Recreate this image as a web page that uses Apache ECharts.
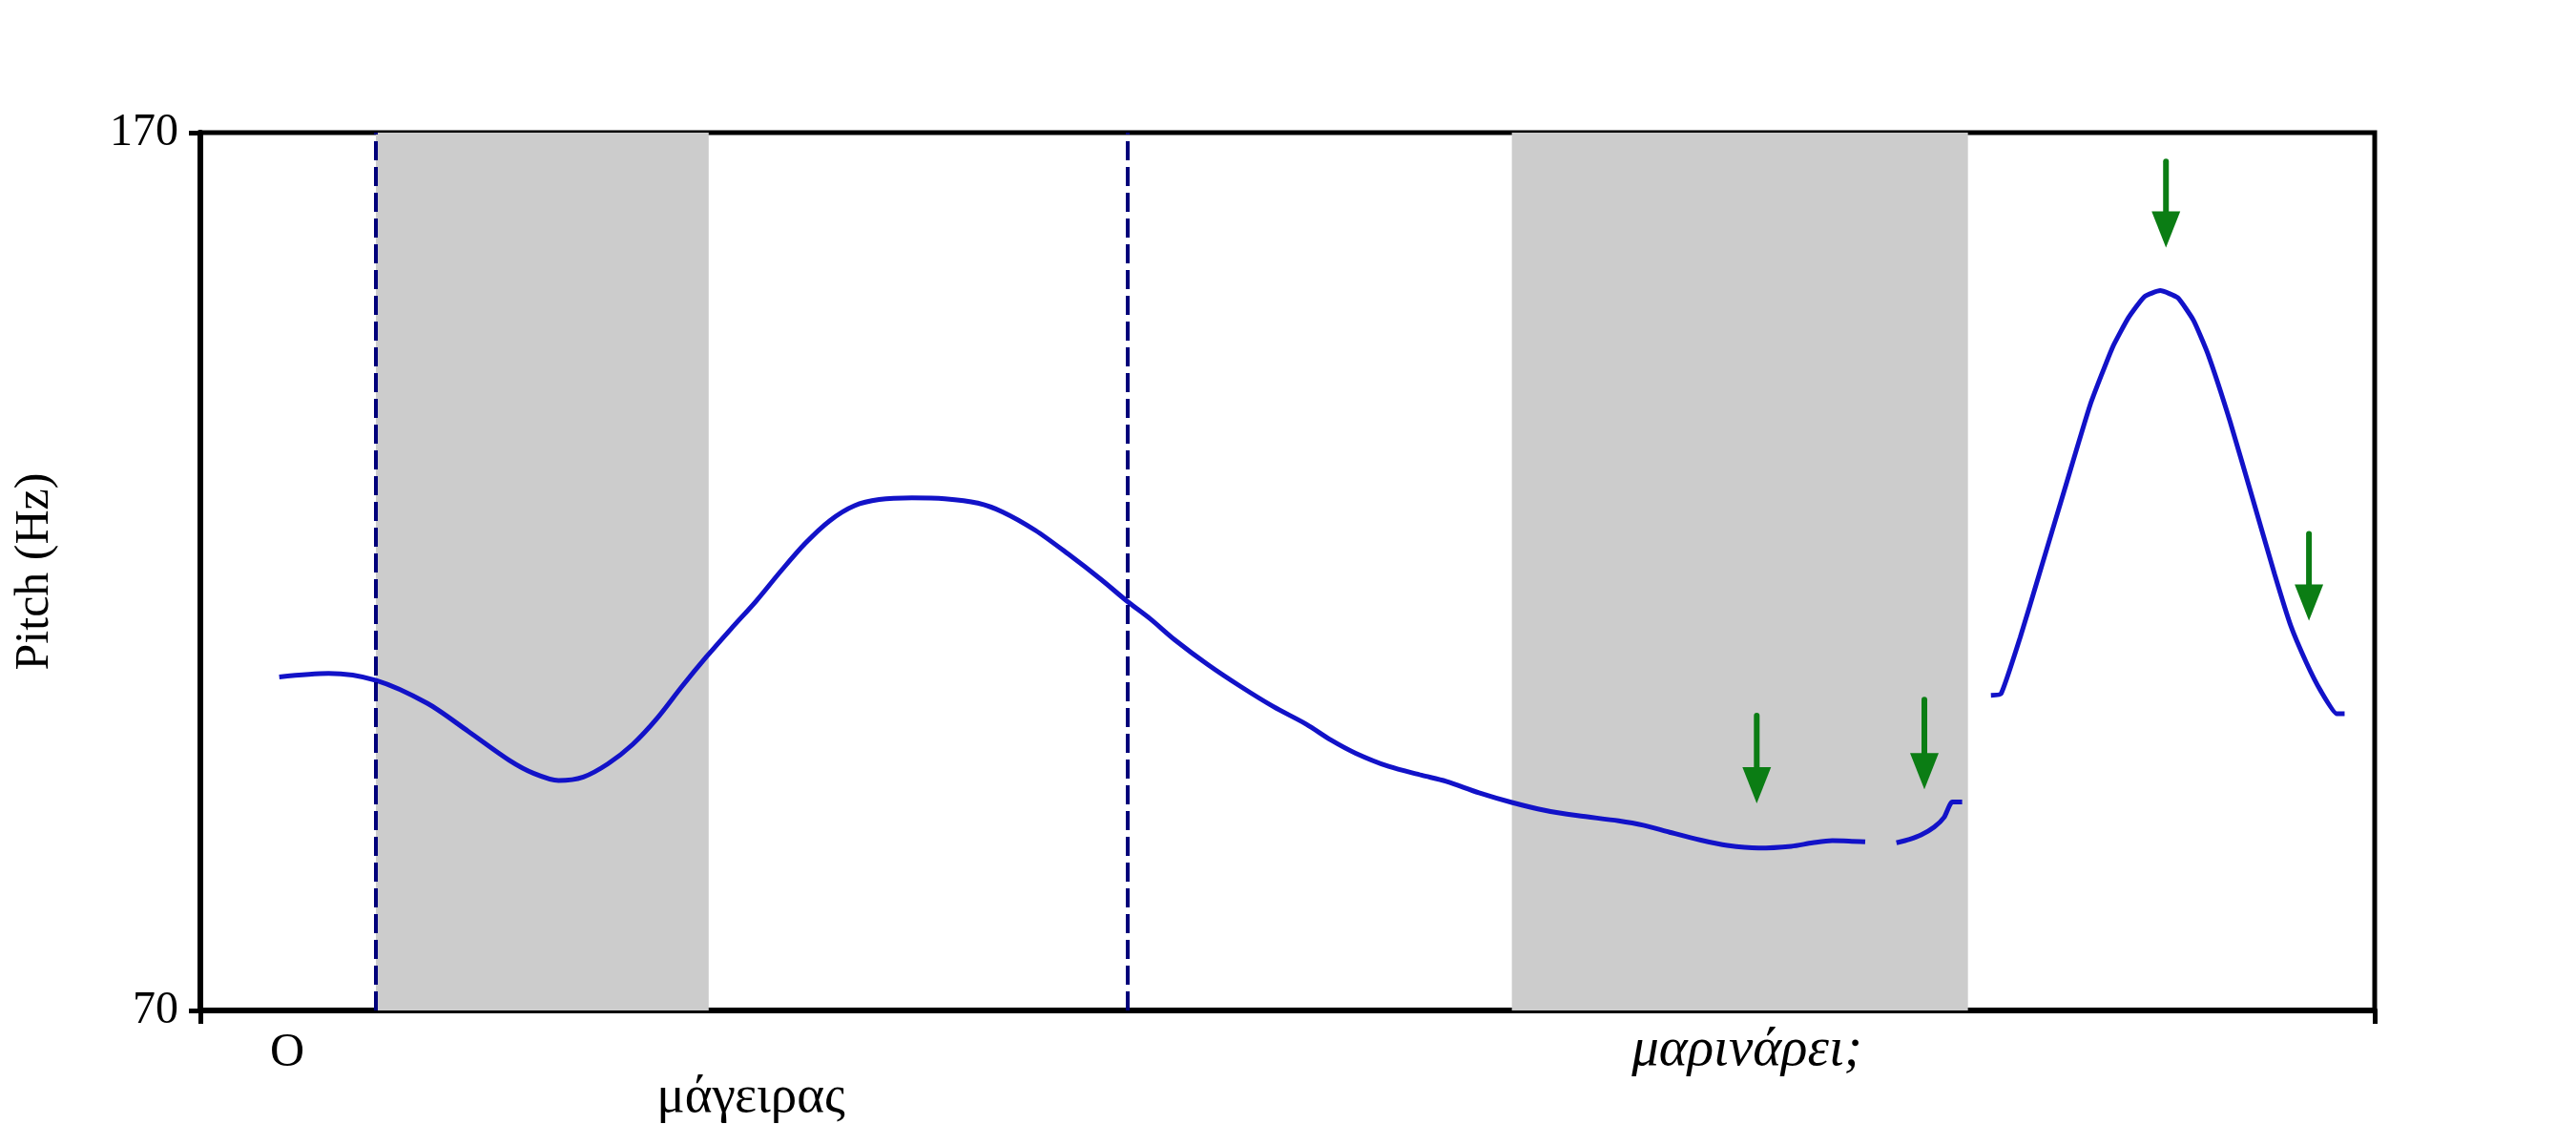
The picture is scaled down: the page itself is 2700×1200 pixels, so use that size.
<!DOCTYPE html>
<html>
<head>
<meta charset="utf-8">
<script src="https://cdn.jsdelivr.net/npm/echarts@6/dist/echarts.min.js"></script>
<style>
html,body{margin:0;padding:0;background:#fff;}
#chart{width:2700px;height:1200px;}
</style>
</head>
<body>
<div id="chart"></div>
<script>
// ---- data (x: time in ms, y: pitch in Hz) ----
const contour1 = [
  [48,108.0],[78,108.4],[107,107.6],[138,105.0],[163,101.8],[188,98.5],[203,97.0],[218,96.2],
  [233,96.6],[248,98.1],[263,100.3],[278,103.3],[293,106.9],[308,110.3],[323,113.5],[338,116.6],
  [353,120.0],[368,123.2],[383,125.8],[398,127.5],[413,128.2],[433,128.4],[453,128.3],[473,127.8],
  [488,126.8],[508,124.7],[528,122.0],[548,119.1],[564,116.6],[578,114.6],[593,112.2],[613,109.4],
  [633,106.9],[653,104.6],[673,102.6],[688,100.8],[703,99.3],[723,97.8],[743,96.8],[758,96.1],
  [778,94.8],[798,93.7],[818,92.8],[838,92.2],[863,91.6],[878,91.1],[894,90.3],[913,89.4],
  [929,88.8],[948,88.5],[968,88.7],[981,89.1],[993,89.35],[1003,89.3],[1013,89.2]
];
const contour2 = [
  [1032,89.1],[1040,89.5],[1047,90.0],[1055,90.9],[1061,92.0],[1066,93.75],[1072,93.75]
];
const contour3 = [
  [1089.5,105.9],[1095.7,106.1],[1107.3,112.5],[1118.9,119.7],[1134.4,129.4],[1149.9,139.0],
  [1163.4,145.5],[1173.1,148.9],[1182.8,151.3],[1192.5,152.0],[1203.1,151.2],[1212.8,148.6],
  [1221.5,144.8],[1235,137.1],[1248.6,128.4],[1262.1,119.7],[1271.8,113.9],[1281.5,109.6],
  [1290.2,106.4],[1299.9,103.8],[1304.7,103.8]
];
const shadedBands = [[106.8,309.3],[798,1075.5]];
const boundaries = [106.8,564];
const arrows = [ // [x, yTop, yTip]
  [947,103.6,93.6],[1049,105.4,95.2],[1196,166.7,156.9],[1283,124.3,114.4]
];
const wordPositions = [52.8,335,941];
const words = ['Ο','μάγειρας','μαρινάρει;'];
const yTicks = [70,170];
const xRange = [0,1323];

const BLUE = '#1212c8';
const GREEN = '#0b7d14';
const FONT = 'Liberation Serif';

const chart = echarts.init(document.getElementById('chart'), null, {renderer:'canvas'});
chart.setOption({
  animation:false,
  backgroundColor:'#ffffff',
  grid:{left:210,right:211,top:139,bottom:141,containLabel:false,outerBoundsMode:'none',
        show:true,borderColor:'#000',borderWidth:5,backgroundColor:'transparent'},
  xAxis:{
    type:'value',min:xRange[0],max:xRange[1],
    splitLine:{show:false},
    axisLine:{show:true,onZero:false,lineStyle:{color:'#000',width:6}},
    axisTick:{show:true,customValues:xRange,length:14,lineStyle:{color:'#000',width:5}},
    axisLabel:{
      show:true,customValues:wordPositions,margin:20,color:'#000',
      fontFamily:FONT,fontSize:48,
      formatter:function(v){
        const i = wordPositions.indexOf(v);
        if(i===0) return '{o|'+words[0]+'}';
        if(i===1) return '{m|'+words[1]+'}';
        if(i===2) return '{i|'+words[2]+'}';
        return '';
      },
      rich:{
        o:{fontFamily:FONT,fontSize:50,color:'#000'},
        m:{fontFamily:FONT,fontSize:55,color:'#000',padding:[44,0,0,0]},
        i:{fontFamily:FONT,fontSize:57,fontStyle:'italic',color:'#000',padding:[-6,0,0,0]}
      }
    }
  },
  yAxis:{
    type:'value',min:70,max:170,
    name:'Pitch (Hz)',nameLocation:'middle',nameGap:148,nameRotate:90,
    nameTextStyle:{fontFamily:FONT,fontSize:50,color:'#000'},
    splitLine:{show:false},
    axisLine:{show:true,lineStyle:{color:'#000',width:6}},
    axisTick:{show:true,customValues:yTicks,length:12,lineStyle:{color:'#000',width:5}},
    axisLabel:{show:true,customValues:yTicks,margin:23,color:'#000',fontFamily:FONT,fontSize:48}
  },
  series:[
    {
      type:'custom',z:1,silent:true,
      data:shadedBands,
      encode:{x:[0,1]},
      renderItem:function(params,api){
        const p0 = api.coord([api.value(0),170]);
        const p1 = api.coord([api.value(1),70]);
        return {type:'rect',shape:{x:p0[0],y:p0[1],width:p1[0]-p0[0],height:p1[1]-p0[1]},
                style:{fill:'#cccccc'}};
      },
      markLine:{
        silent:true,symbol:['none','none'],label:{show:false},
        lineStyle:{type:[20,7],color:'#00007a',width:4},
        emphasis:{disabled:true},
        data:boundaries.map(function(b){return {xAxis:b};})
      }
    },
    {type:'line',z:3,data:contour1,showSymbol:false,smooth:0.3,lineStyle:{color:BLUE,width:5},silent:true},
    {type:'line',z:3,data:contour2,showSymbol:false,smooth:0.2,lineStyle:{color:BLUE,width:5},silent:true},
    {type:'line',z:3,data:contour3,showSymbol:false,smooth:0.15,lineStyle:{color:BLUE,width:5},silent:true},
    {
      type:'custom',z:4,silent:true,
      data:arrows,
      encode:{x:0,y:[1,2]},
      renderItem:function(params,api){
        const top = api.coord([api.value(0),api.value(1)]);
        const tip = api.coord([api.value(0),api.value(2)]);
        const headLen = 38, half = 15;
        return {type:'group',children:[
          {type:'line',shape:{x1:top[0],y1:top[1],x2:tip[0],y2:tip[1]-headLen+4},
           style:{stroke:GREEN,lineWidth:6,lineCap:'round'}},
          {type:'polygon',shape:{points:[[tip[0]-half,tip[1]-headLen],[tip[0]+half,tip[1]-headLen],[tip[0],tip[1]]]},
           style:{fill:GREEN}}
        ]};
      }
    }
  ]
});
</script>
</body>
</html>
